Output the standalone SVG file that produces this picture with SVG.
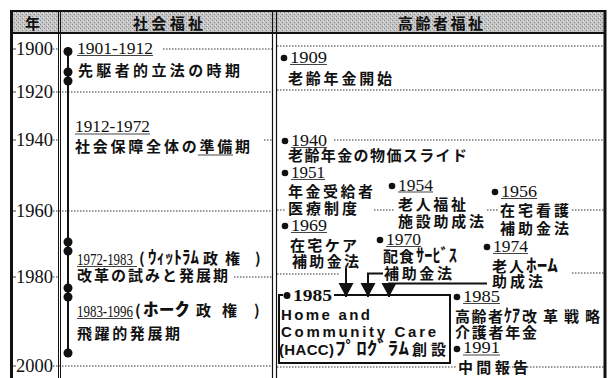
<svg xmlns="http://www.w3.org/2000/svg" width="608" height="378" viewBox="0 0 608 378">
<defs>
<style>
.j{font-family:'Noto Sans CJK JP',sans-serif;font-size:15px;font-weight:700;fill:#111}
.y{font-family:'Liberation Serif',serif;font-size:17px;fill:#111}
.ax{font-family:'Liberation Serif',serif;font-size:18px;fill:#111}
.e{font-family:'Liberation Sans','Noto Sans CJK JP',sans-serif;font-size:15px;font-weight:700;fill:#111}
.hd{font-family:'Noto Sans CJK JP',sans-serif;font-size:15px;font-weight:700;fill:#111}
.k{font-size:18px}
.g{stroke:#333;stroke-width:1;stroke-dasharray:1.5 1.5;fill:none}
.u{stroke:#444;stroke-width:1}
.b{stroke:#111;fill:none}
.dot{fill:#111}
.ar{stroke:#111;stroke-width:2;fill:none;marker-end:url(#ah)}
</style>
<marker id="ah" markerUnits="userSpaceOnUse" markerWidth="14" markerHeight="16" refX="14" refY="7.5" orient="auto" viewBox="0 0 14 15">
<path d="M0,0 L14,7.5 L0,15 z" fill="#111"/>
</marker>
<pattern id="tone" width="4" height="4" patternUnits="userSpaceOnUse">
<rect width="4" height="4" fill="#c6c6c6"/>
<rect x="0" y="0" width="1" height="1" fill="#8a8a8a"/>
<rect x="2" y="2" width="1" height="1" fill="#8a8a8a"/>
<rect x="3" y="1" width="1" height="1" fill="#e6e6e6"/>
</pattern>
</defs>
<rect width="608" height="378" fill="#fff"/>

<g id="frame">
<rect x="11" y="11" width="594" height="22" fill="url(#tone)"/>
<line class="b" x1="11" y1="11" x2="606" y2="11" stroke-width="2"/>
<line class="b" x1="11" y1="33" x2="606" y2="33" stroke-width="2"/>
<line class="b" x1="11.5" y1="10" x2="11.5" y2="378" stroke-width="3"/>
<line class="b" x1="605" y1="10" x2="605" y2="378" stroke-width="3"/>
<line class="b" x1="58.5" y1="11" x2="58.5" y2="378" stroke-width="1"/>
<line class="b" x1="60.5" y1="11" x2="60.5" y2="378" stroke-width="1"/>
<line class="b" x1="272.5" y1="11" x2="272.5" y2="378" stroke-width="1.2"/>
<line class="b" x1="276.5" y1="11" x2="276.5" y2="378" stroke-width="1.2"/>
<text class="hd" x="25" y="28.5" font-size="14">年</text>
<text class="hd" x="133" y="28.5" textLength="70">社会福祉</text>
<text class="hd" x="398" y="28.5" textLength="85">高齢者福祉</text>
</g>

<g id="axis">
<g class="u"><line x1="13" y1="49" x2="16" y2="49"/><line x1="13" y1="92" x2="16" y2="92"/><line x1="13" y1="140" x2="16" y2="140"/><line x1="13" y1="211" x2="16" y2="211"/><line x1="13" y1="277" x2="16" y2="277"/><line x1="13" y1="366" x2="16" y2="366"/></g>
<text class="ax" x="16" y="55" textLength="37" lengthAdjust="spacingAndGlyphs">1900</text>
<text class="ax" x="16" y="98" textLength="37" lengthAdjust="spacingAndGlyphs">1920</text>
<text class="ax" x="16" y="146" textLength="37" lengthAdjust="spacingAndGlyphs">1940</text>
<text class="ax" x="16" y="217" textLength="37" lengthAdjust="spacingAndGlyphs">1960</text>
<text class="ax" x="16" y="283" textLength="37" lengthAdjust="spacingAndGlyphs">1980</text>
<text class="ax" x="16" y="372" textLength="37" lengthAdjust="spacingAndGlyphs">2000</text>
</g>

<g id="gridlines">
<path class="g" d="M53,49H58 M163,49H272 M277,46H604"/>
<path class="g" d="M53,92H272 M277,90H604"/>
<path class="g" d="M53,140H58 M264,140H272 M334,140H604"/>
<path class="g" d="M53,211H272 M277,210H286 M374,210H395 M487,210H498 M572,210H604"/>
<path class="g" d="M53,277H58 M234,277H272 M277,274H340 M572,273H604"/>
<path class="g" d="M53,366H272 M277,367H456 M503,367H604"/>
</g>

<g id="timeline">
<line x1="68" y1="51" x2="68" y2="353" stroke="#111" stroke-width="2"/>
<circle class="dot" cx="68" cy="51.5" r="4.5"/>
<circle class="dot" cx="68" cy="72" r="4.5"/>
<circle class="dot" cx="68" cy="81" r="4.5"/>
<circle class="dot" cx="68" cy="242" r="4.5"/>
<circle class="dot" cx="68" cy="251" r="4.5"/>
<circle class="dot" cx="68" cy="288" r="4.5"/>
<circle class="dot" cx="68" cy="297" r="4.5"/>
<circle class="dot" cx="68" cy="353" r="4.5"/>
</g>

<g id="period-1901">
<text class="y" x="77" y="53.5" textLength="76" lengthAdjust="spacingAndGlyphs">1901-1912</text>
<line class="u" x1="77" y1="55.5" x2="153" y2="55.5"/>
<text class="j" x="78" y="75.5" textLength="162">先駆者的立法の時期</text>
</g>
<g id="period-1912">
<text class="y" x="75" y="132" textLength="75" lengthAdjust="spacingAndGlyphs">1912-1972</text>
<line class="u" x1="75" y1="134" x2="150" y2="134"/>
<text class="j" x="75" y="151.5" textLength="175">社会保障全体の準備期</text>
<line class="u" x1="198" y1="155" x2="233" y2="155"/>
</g>
<g id="period-1972">
<text class="y" x="77" y="264.5" textLength="56" lengthAdjust="spacingAndGlyphs">1972-1983</text>
<line class="u" x1="77" y1="266.5" x2="137" y2="266.5"/>
<text class="j" x="139" y="264">(<tspan class="k" x="148" textLength="51" lengthAdjust="spacingAndGlyphs">ｳｨｯﾄﾗﾑ</tspan><tspan x="203">政</tspan><tspan x="225">権</tspan><tspan x="255">)</tspan></text>
<text class="j" x="77" y="281" textLength="151">改革の試みと発展期</text>
</g>
<g id="period-1983">
<text class="y" x="77" y="316.5" textLength="56" lengthAdjust="spacingAndGlyphs">1983-1996</text>
<line class="u" x1="77" y1="318.5" x2="133" y2="318.5"/>
<text class="j" x="135" y="316">(<tspan class="k" x="143" textLength="47" lengthAdjust="spacingAndGlyphs">ﾎｰｸ</tspan><tspan x="196">政</tspan><tspan x="222">権</tspan><tspan x="254">)</tspan></text>
<text class="j" x="77" y="339" textLength="103">飛躍的発展期</text>
</g>

<g id="ev-1909">
<circle class="dot" cx="284" cy="58" r="3.3"/>
<text class="y" x="290" y="63" textLength="37" lengthAdjust="spacingAndGlyphs">1909</text>
<line class="u" x1="290" y1="64.5" x2="327" y2="64.5"/>
<text class="j" x="288" y="84" textLength="104">老齢年金開始</text>
</g>
<g id="ev-1940">
<circle class="dot" cx="285" cy="141" r="3.3"/>
<text class="y" x="291" y="146" textLength="36" lengthAdjust="spacingAndGlyphs">1940</text>
<line class="u" x1="291" y1="147.5" x2="327" y2="147.5"/>
<text class="j" x="288" y="161" textLength="179">老齢年金の物価スライド</text>
</g>
<g id="ev-1951">
<circle class="dot" cx="285" cy="173" r="3.3"/>
<text class="y" x="291" y="178" textLength="34" lengthAdjust="spacingAndGlyphs">1951</text>
<line class="u" x1="291" y1="179.5" x2="325" y2="179.5"/>
<text class="j" x="288" y="197" textLength="85">年金受給者</text>
<text class="j" x="288" y="214" textLength="69">医療制度</text>
</g>
<g id="ev-1954">
<circle class="dot" cx="392" cy="186" r="3.3"/>
<text class="y" x="398" y="190.5" textLength="35" lengthAdjust="spacingAndGlyphs">1954</text>
<line class="u" x1="398" y1="192" x2="433" y2="192"/>
<text class="j" x="398" y="210" textLength="68">老人福祉</text>
<text class="j" x="398" y="227" textLength="86">施設助成法</text>
</g>
<g id="ev-1956">
<circle class="dot" cx="495" cy="192" r="3.3"/>
<text class="y" x="501" y="197" textLength="36" lengthAdjust="spacingAndGlyphs">1956</text>
<line class="u" x1="501" y1="198.5" x2="537" y2="198.5"/>
<text class="j" x="500" y="216" textLength="69">在宅看護</text>
<text class="j" x="500" y="234" textLength="69">補助金法</text>
</g>
<g id="ev-1969">
<circle class="dot" cx="285" cy="226" r="3.3"/>
<text class="y" x="291" y="231" textLength="36" lengthAdjust="spacingAndGlyphs">1969</text>
<line class="u" x1="291" y1="232.5" x2="327" y2="232.5"/>
<text class="j" x="290" y="251" textLength="67">在宅ケア</text>
<text class="j" x="292" y="267" textLength="67">補助金法</text>
</g>
<g id="ev-1970">
<circle class="dot" cx="380" cy="240" r="3.3"/>
<text class="y" x="386" y="245" textLength="35" lengthAdjust="spacingAndGlyphs">1970</text>
<line class="u" x1="386" y1="246.5" x2="421" y2="246.5"/>
<text class="j" x="383" y="262"><tspan textLength="31">配食</tspan><tspan class="k" x="416" textLength="41" lengthAdjust="spacingAndGlyphs">ｻｰﾋﾞｽ</tspan></text>
<text class="j" x="384" y="279" textLength="68">補助金法</text>
</g>
<g id="ev-1974">
<circle class="dot" cx="487" cy="247" r="3.3"/>
<text class="y" x="493" y="252" textLength="35" lengthAdjust="spacingAndGlyphs">1974</text>
<line class="u" x1="493" y1="253.5" x2="528" y2="253.5"/>
<text class="j" x="492" y="272"><tspan textLength="32">老人</tspan><tspan class="k" x="526" textLength="32" lengthAdjust="spacingAndGlyphs">ﾎｰﾑ</tspan></text>
<text class="j" x="492" y="287" textLength="51">助成法</text>
</g>

<g id="ev-1985-hacc">
<path class="b" stroke-width="2" d="M283,295H279V363H450V295H334"/>
<circle class="dot" cx="287" cy="295.5" r="3.5"/>
<text class="y" x="293" y="300.5" font-weight="700" textLength="39" lengthAdjust="spacingAndGlyphs">1985</text>
<text class="e" x="281" y="320" textLength="89">Home and</text>
<text class="e" x="281" y="337" textLength="155">Community Care</text>
<text class="e" x="279" y="355"><tspan textLength="55">(HACC)</tspan><tspan class="k" x="335" textLength="74" lengthAdjust="spacingAndGlyphs">ﾌﾟﾛｸﾞﾗﾑ</tspan><tspan x="412" textLength="34">創設</tspan></text>
</g>
<g id="ev-1985">
<circle class="dot" cx="457" cy="297" r="3.3"/>
<text class="y" x="463" y="302" textLength="37" lengthAdjust="spacingAndGlyphs">1985</text>
<line class="u" x1="463" y1="303.5" x2="500" y2="303.5"/>
<text class="j" x="455" y="322"><tspan textLength="48">高齢者</tspan><tspan class="k" x="504" textLength="16" lengthAdjust="spacingAndGlyphs">ｹｱ</tspan><tspan x="522" textLength="78">改革戦略</tspan></text>
<text class="j" x="455" y="338" textLength="82">介護者年金</text>
</g>
<g id="ev-1991">
<circle class="dot" cx="457" cy="349" r="3.3"/>
<text class="y" x="463" y="353" textLength="37" lengthAdjust="spacingAndGlyphs">1991</text>
<line class="u" x1="463" y1="355" x2="500" y2="355"/>
<text class="j" x="458" y="373" textLength="70">中間報告</text>
</g>

<g id="connectors">
<path class="ar" d="M346,268V297"/>
<path class="ar" d="M383,273.5H368V297"/>
<path class="ar" d="M487,283.5H389V297"/>
</g>
</svg>
